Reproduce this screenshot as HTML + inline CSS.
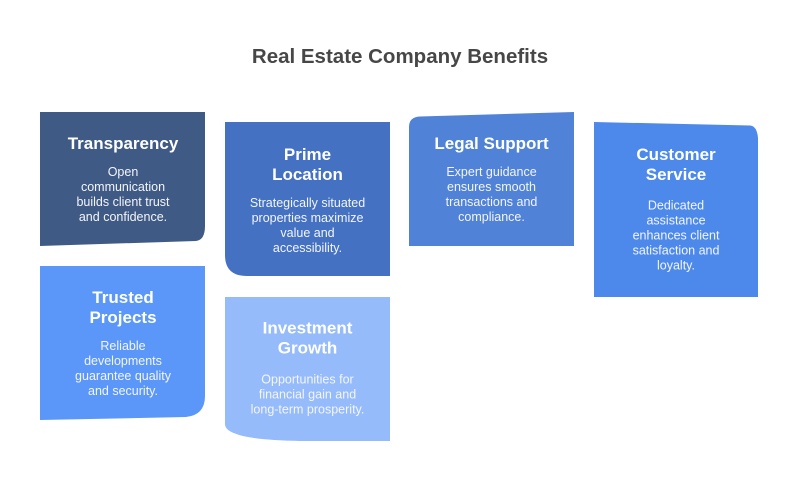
<!DOCTYPE html>
<html>
<head>
<meta charset="utf-8">
<style>
  html, body { margin: 0; padding: 0; background: #ffffff; }
  body { width: 799px; height: 502px; overflow: hidden; }
  svg { display: block; }
  .t { font-family: "Liberation Sans", Arial, sans-serif; font-weight: bold; font-size: 17px; fill: #ffffff; }
  .b { font-family: "Liberation Sans", Arial, sans-serif; font-size: 12.5px; fill: #f3f5fa; }
  .h { font-family: "Liberation Sans", Arial, sans-serif; font-weight: bold; font-size: 20.5px; fill: #474747; }
</style>
</head>
<body>
<svg width="799" height="502" viewBox="0 0 799 502" xmlns="http://www.w3.org/2000/svg">
  <rect x="0" y="0" width="799" height="502" fill="#ffffff"/>

  <text class="h" x="400" y="63" text-anchor="middle">Real Estate Company Benefits</text>

  <!-- Box 1: Transparency -->
  <path d="M40,112 H205 V226 Q205,240 196,241 L40,246 Z" fill="#3F5A84"/>
  <text class="t" x="123" y="149" text-anchor="middle">Transparency</text>
  <text class="b" x="123" y="176" text-anchor="middle">Open</text>
  <text class="b" x="123" y="191" text-anchor="middle">communication</text>
  <text class="b" x="123" y="206" text-anchor="middle">builds client trust</text>
  <text class="b" x="123" y="221" text-anchor="middle">and confidence.</text>

  <!-- Box 2: Prime Location -->
  <path d="M225,122 H390 V276 H247 Q225,276 225,255 Z" fill="#4471C1"/>
  <text class="t" x="307.5" y="160" text-anchor="middle">Prime</text>
  <text class="t" x="307.5" y="180" text-anchor="middle">Location</text>
  <text class="b" x="307.5" y="207" text-anchor="middle">Strategically situated</text>
  <text class="b" x="307.5" y="222" text-anchor="middle">properties maximize</text>
  <text class="b" x="307.5" y="237" text-anchor="middle">value and</text>
  <text class="b" x="307.5" y="252" text-anchor="middle">accessibility.</text>

  <!-- Box 3: Legal Support -->
  <path d="M409,127 Q409,117 420,116.5 L574,112 V246 H409 Z" fill="#5082D7"/>
  <text class="t" x="491.5" y="149" text-anchor="middle">Legal Support</text>
  <text class="b" x="491.5" y="176" text-anchor="middle">Expert guidance</text>
  <text class="b" x="491.5" y="191" text-anchor="middle">ensures smooth</text>
  <text class="b" x="491.5" y="206" text-anchor="middle">transactions and</text>
  <text class="b" x="491.5" y="221" text-anchor="middle">compliance.</text>

  <!-- Box 4: Customer Service -->
  <path d="M594,122 L750,125.5 Q757,126 758,138 V297 H594 Z" fill="#4C89EB"/>
  <text class="t" x="676" y="160" text-anchor="middle">Customer</text>
  <text class="t" x="676" y="180" text-anchor="middle">Service</text>
  <text class="b" x="676" y="209.5" text-anchor="middle">Dedicated</text>
  <text class="b" x="676" y="224.5" text-anchor="middle">assistance</text>
  <text class="b" x="676" y="239.5" text-anchor="middle">enhances client</text>
  <text class="b" x="676" y="254.5" text-anchor="middle">satisfaction and</text>
  <text class="b" x="676" y="269.5" text-anchor="middle">loyalty.</text>

  <!-- Box 5: Trusted Projects -->
  <path d="M40,266 H205 V396 Q205,415 186,417 L40,420 Z" fill="#5A97F9"/>
  <text class="t" x="123" y="303" text-anchor="middle">Trusted</text>
  <text class="t" x="123" y="323" text-anchor="middle">Projects</text>
  <text class="b" x="123" y="350" text-anchor="middle">Reliable</text>
  <text class="b" x="123" y="365" text-anchor="middle">developments</text>
  <text class="b" x="123" y="380" text-anchor="middle">guarantee quality</text>
  <text class="b" x="123" y="395" text-anchor="middle">and security.</text>

  <!-- Box 6: Investment Growth -->
  <path d="M225,297 H390 V441 H300 Q250,440 235,433.5 Q225,430 225,424 Z" fill="#95BBFB"/>
  <text class="t" x="307.5" y="333.5" text-anchor="middle">Investment</text>
  <text class="t" x="307.5" y="353.5" text-anchor="middle">Growth</text>
  <text class="b" x="307.5" y="383.5" text-anchor="middle">Opportunities for</text>
  <text class="b" x="307.5" y="398.5" text-anchor="middle">financial gain and</text>
  <text class="b" x="307.5" y="413.5" text-anchor="middle">long-term prosperity.</text>
</svg>
</body>
</html>
